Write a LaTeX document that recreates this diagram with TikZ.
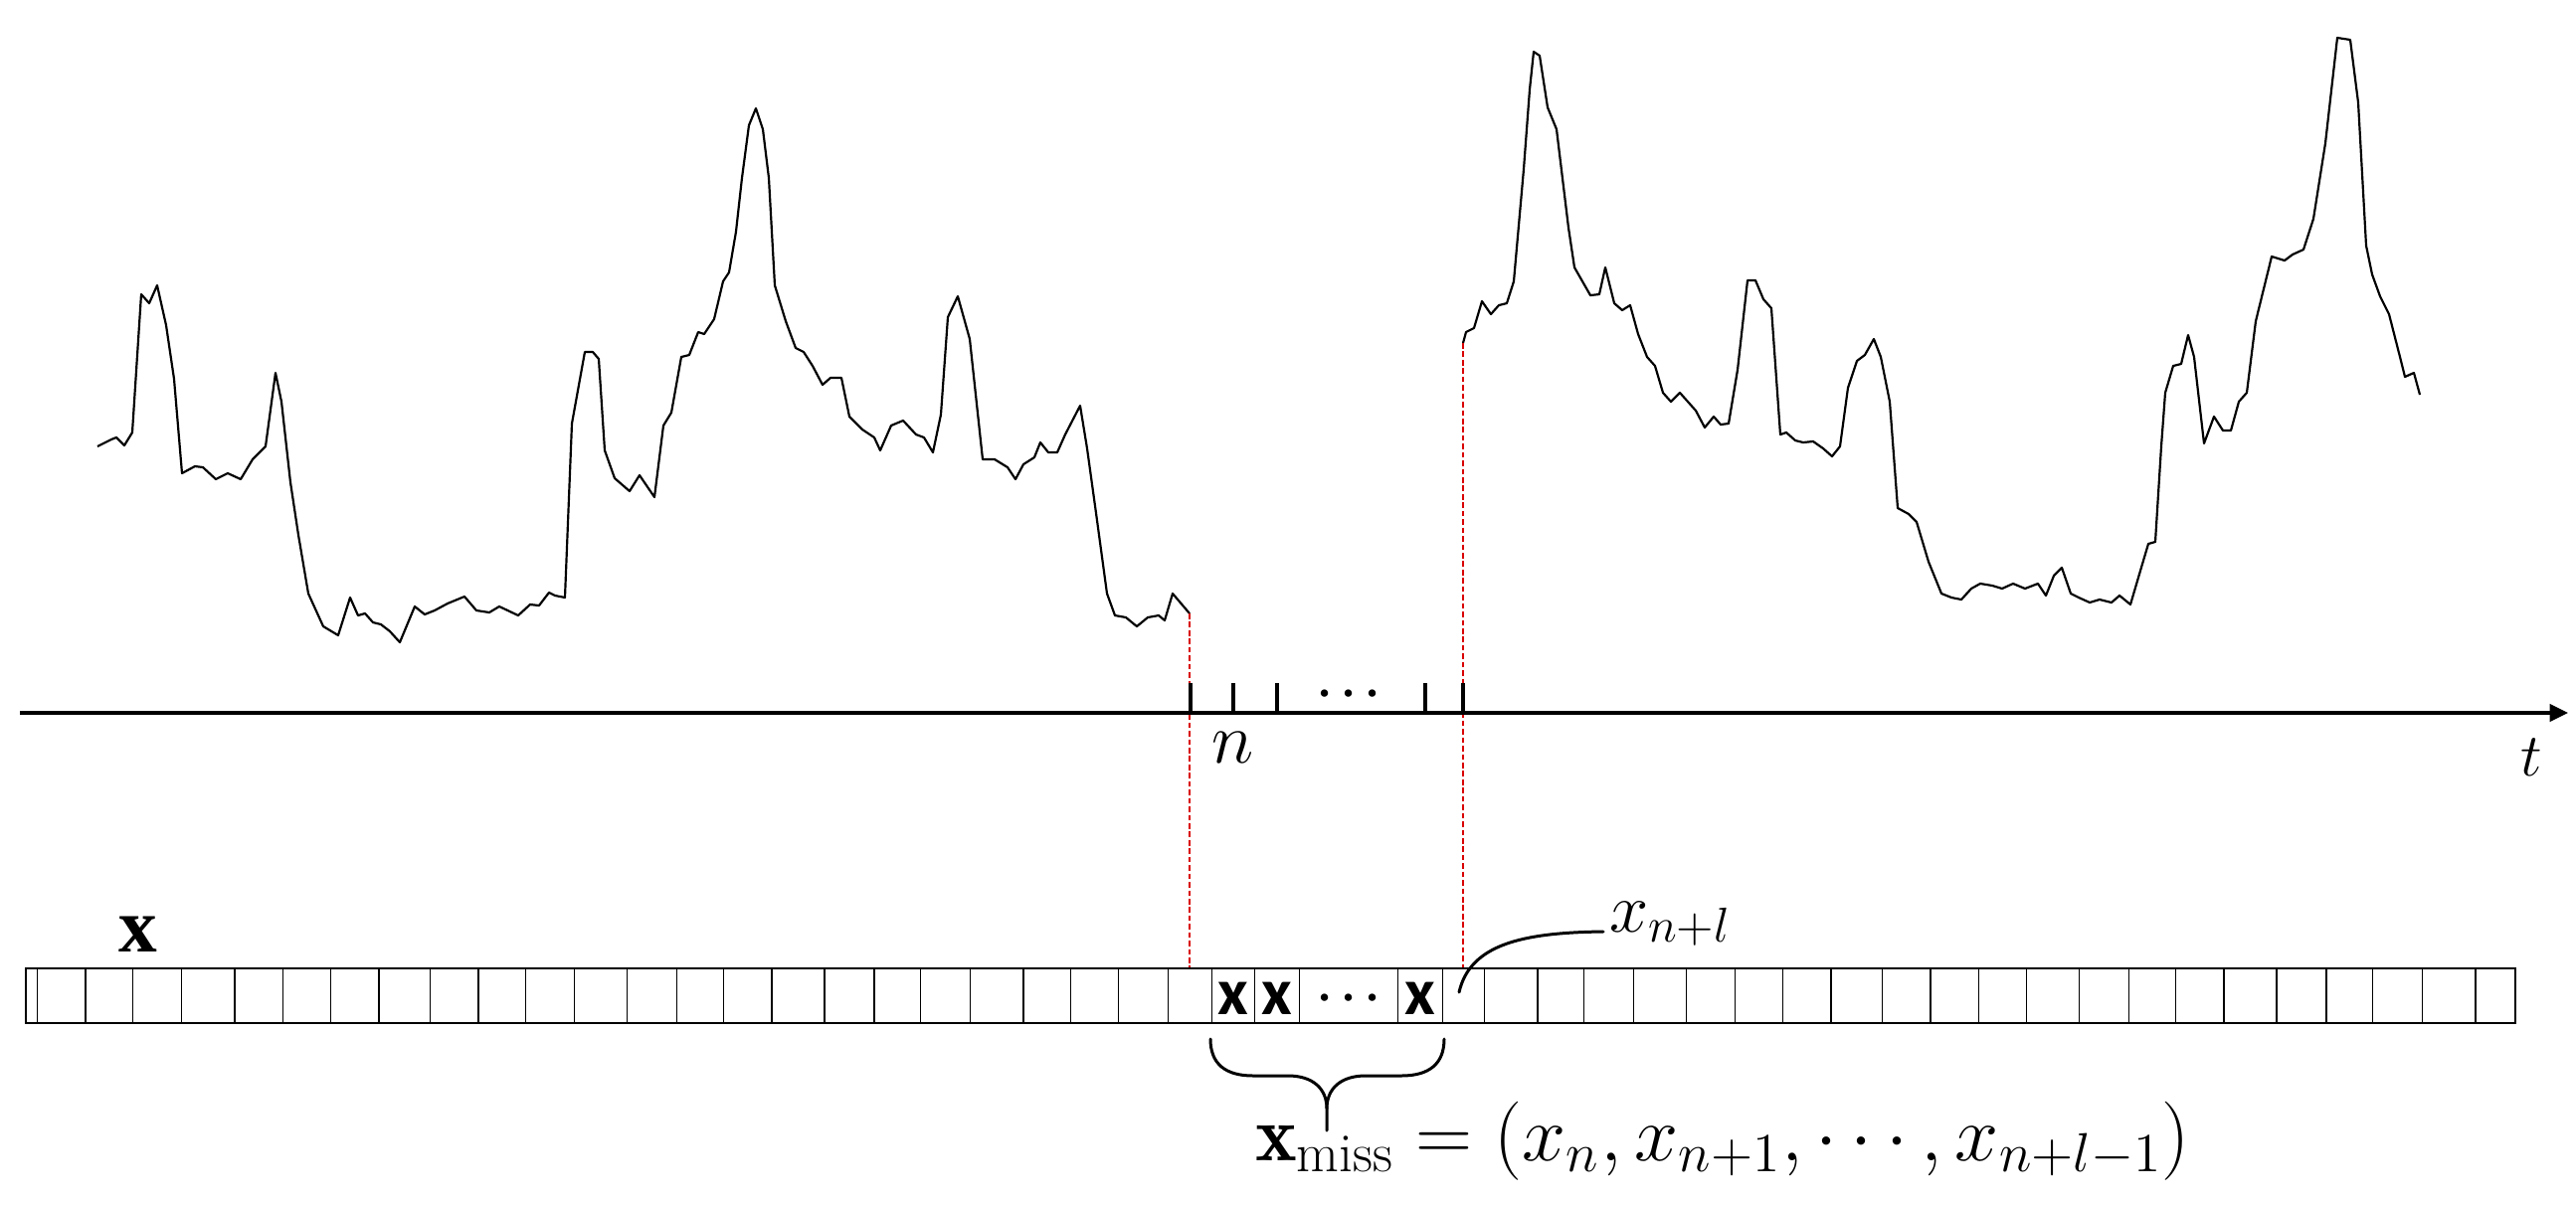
\RequirePackage{fix-cm}
\documentclass[tikz,border=0pt]{standalone}
\usepackage{fontspec}
\newfontfamily\cellfont{Carlito}
\newfontfamily\timesfont{Liberation Serif}
\usetikzlibrary{arrows.meta,calc}
\begin{document}
\begin{tikzpicture}[x=0.01cm,y=-0.01cm,
  sig/.style={line width=0.62pt, line join=round},
  axisline/.style={line width=0.95pt},
  tickmark/.style={line width=0.9pt},
  guide/.style={red!85!black, line width=0.3pt, dash pattern=on 1.6pt off 0.8pt},
  arrbox/.style={line width=0.65pt},
  divider/.style={line width=0.42pt},
  bracestyle/.style={line width=0.85pt, line cap=round},
  lbl/.style={inner sep=0pt, outer sep=0pt},
  cellx/.style={lbl, anchor=base, font=\fontsize{19}{22}\selectfont\cellfont\bfseries},
  dotlbl/.style={lbl, anchor=base, font=\fontsize{13.5}{16}\selectfont\boldmath},
]
\useasboundingbox (0,0) rectangle (2590,1211);

% signal, left part
\draw[sig] plot coordinates {(98,449) (112,442) (117,440) (125,448) (133,435) (142,296) (150,305) (158,287) (167,327) (175,381) (183,476) (196,469) (204,470) (217,482) (229,476) (242,482) (254,462) (267,449) (277,375) (283,404) (292,485) (300,538) (310,597) (325,630) (340,639) (352,601) (360,619) (367,617) (375,626) (383,628) (392,635) (402,646) (417,610) (427,618) (437,614) (450,607) (467,600) (479,614) (492,616) (502,610) (521,619) (533,608) (542,609) (552,596) (558,599) (568,601) (575,426) (588,354) (596,354) (602,361) (608,453) (618,481) (633,494) (643,478) (658,500) (667,428) (675,415) (685,359) (693,357) (702,334) (708,336) (718,321) (727,283) (733,274) (740,233) (746,179) (753,126) (760,109) (767,130) (773,179) (779,287) (790,323) (800,350) (808,354) (817,368) (827,387) (835,380) (846,380) (854,419) (867,432) (879,440) (885,453) (896,428) (908,423) (921,437) (929,440) (938,455) (946,417) (953,319) (963,298) (975,341) (988,462) (1000,462) (1013,470) (1021,482) (1029,467) (1040,460) (1046,445) (1054,455) (1063,455) (1071,437) (1086,408) (1093,451) (1102,516) (1113,597) (1121,619) (1132,621) (1143,630) (1154,621) (1165,619) (1171,624) (1179,597) (1196,617)};
% signal, right part
\draw[sig] plot coordinates {(1471,345) (1474,334) (1482,330) (1490,303) (1499,316) (1507,307) (1515,305) (1522,283) (1532,170) (1538,90) (1542,52) (1548,56) (1556,108) (1565,130) (1577,229) (1583,269) (1591,283) (1599,297) (1608,296) (1614,269) (1623,305) (1631,312) (1639,307) (1647,336) (1656,359) (1664,368) (1672,395) (1680,404) (1689,395) (1705,413) (1714,430) (1723,419) (1730,427) (1738,426) (1747,372) (1757,282) (1765,282) (1773,301) (1781,310) (1790,437) (1796,435) (1805,443) (1813,445) (1823,444) (1833,451) (1842,459) (1850,449) (1858,390) (1867,363) (1875,357) (1884,341) (1891,359) (1900,404) (1908,511) (1919,517) (1927,525) (1939,565) (1952,597) (1962,601) (1972,603) (1982,592) (1991,587) (2003,589) (2013,592) (2024,587) (2036,592) (2049,587) (2057,599) (2065,579) (2073,571) (2082,597) (2090,601) (2101,606) (2111,603) (2123,606) (2131,599) (2142,608) (2152,574) (2160,547) (2167,545) (2173,449) (2177,395) (2185,368) (2193,366) (2200,337) (2206,359) (2216,446) (2226,419) (2235,433) (2243,433) (2251,404) (2259,395) (2268,323) (2284,258) (2297,262) (2305,256) (2316,251) (2326,220) (2338,144) (2350,38) (2363,40) (2371,103) (2379,247) (2385,276) (2393,298) (2402,316) (2413,359) (2418,379) (2427,375) (2433,397)};

% guide lines
\coordinate (gapL) at (1196,617);
\coordinate (gapR) at (1471,345);
\coordinate (gapLb) at (1196,974);
\coordinate (gapRb) at (1471,974);
\draw[guide] (gapL) -- (gapLb);
\draw[guide] (gapR) -- (gapRb);

% time axis
\coordinate (axL) at (20,717);
\coordinate (axR) at (2582,717);
\draw[axisline, -{Triangle[length=5.2pt,width=4.9pt]}] (axL) -- (axR);
\foreach \tx in {1197,1240,1284,1433,1471}
  \draw[tickmark] (\tx,687) -- (\tx,717);
\node[dotlbl] (adots) at (1356,709) {$\cdots$};
\node[lbl, anchor=base, font=\fontsize{20.5}{24}\selectfont] (nlab) at (1240,767) {$n$};
\node[lbl, anchor=base, font=\fontsize{17.3}{20}\selectfont] (tlab) at (2545,780) {$t$};

% array
\draw[arrbox] (26,974) rectangle (2529,1029);
\foreach \dx in {37.3, 86, 133.3, 182.7, 236, 284.3, 332.7, 381, 432.7, 481, 528.3, 577.7, 630.7, 680.7, 727.7, 776, 829, 879, 925.7, 975.7, 1029, 1076.7, 1124.3, 1174.3, 1218.3, 1261.7, 1306.7, 1405.7, 1450.7, 1492.7, 1546, 1592.7, 1642.7, 1695.7, 1744.3, 1792.7, 1841, 1892.7, 1941, 1989.3, 2037.7, 2090.7, 2140.7, 2187.3, 2236, 2289, 2339, 2385.7, 2435.7, 2489}
  \draw[divider] (\dx,974) -- (\dx,1029);
\node[cellx] (c1) at (1240,1020) {x};
\node[cellx] (c2) at (1284,1020) {x};
\node[dotlbl] (cdots) at (1356,1015) {$\cdots$};
\node[cellx] (c3) at (1428,1020) {x};

\node[lbl, anchor=base, font=\fontsize{22}{26}\selectfont\timesfont\bfseries] (xlab) at (139,957) {x};

% x_{n+l} label and leader
\node[lbl, anchor=base west, font=\fontsize{20}{24}\selectfont] (xnl) at (1618,937) {$x_{n+l}$};
\coordinate (lead) at (1467,998);
\draw[bracestyle] (lead) .. controls (1478,950) and (1530,938) .. ($(xnl.base west)+(-6,0)$);

% brace
\coordinate (brL) at (1217,1045);
\coordinate (brR) at (1452,1045);
\coordinate (brT) at (1334,1137);
\draw[bracestyle] (brL) .. controls (1217,1070) and (1232,1082) .. (1260,1082) -- (1295,1082)
   .. controls (1320,1082) and (1334,1095) .. (1334,1115) -- (brT);
\draw[bracestyle] (brR) .. controls (1452,1070) and (1437,1082) .. (1409,1082) -- (1373,1082)
   .. controls (1348,1082) and (1334,1095) .. (1334,1115);

\node[lbl, anchor=base west, font=\fontsize{22.5}{27}\selectfont] (xmiss) at (1262,1167)
  {$\mathbf{x}_{\mathrm{miss}} = (x_n, x_{n+1}, \cdots, x_{n+l-1})$};
\end{tikzpicture}
\end{document}
